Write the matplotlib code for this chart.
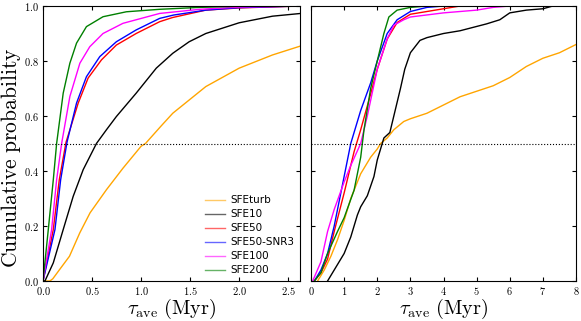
import matplotlib
matplotlib.use('Agg')
import matplotlib.pyplot as plt

plt.rcParams['mathtext.fontset'] = 'cm'
plt.rcParams['font.family'] = 'serif'
plt.rcParams['font.serif'] = ['cmr10', 'DejaVu Serif']
plt.rcParams['axes.formatter.use_mathtext'] = True
plt.rcParams['xtick.direction'] = 'in'
plt.rcParams['ytick.direction'] = 'in'
plt.rcParams['xtick.top'] = True
plt.rcParams['ytick.right'] = True

labels = ['SFEturb', 'SFE10', 'SFE50', 'SFE50-SNR3', 'SFE100', 'SFE200']
colors = ['orange', 'black', 'red', 'blue', 'magenta', 'green']

# left panel: smooth CDFs
l_turb_x = [0, 0.07, 0.1, 0.17, 0.27, 0.375, 0.48, 0.647, 0.815, 1.0, 1.045, 1.2,
            1.323, 1.66, 2.0, 2.34, 2.63]
l_turb_y = [0, 0, 0.008, 0.042, 0.09, 0.175, 0.248, 0.332, 0.41, 0.49, 0.5, 0.562,
            0.61, 0.707, 0.774, 0.822, 0.855]
l_sfe10_x = [0, 0.02, 0.105, 0.206, 0.308, 0.41, 0.545, 0.647, 0.748, 0.95, 1.155,
             1.323, 1.49, 1.66, 2.0, 2.34, 2.63]
l_sfe10_y = [0, 0, 0.066, 0.187, 0.308, 0.405, 0.5, 0.55, 0.598, 0.683, 0.774,
             0.828, 0.870, 0.90, 0.939, 0.963, 0.973]
l_sfe50_x = [0, 0.105, 0.166, 0.235, 0.359, 0.46, 0.596, 0.748, 0.95, 1.19, 1.32,
             1.66, 2.0, 2.63]
l_sfe50_y = [0, 0.187, 0.368, 0.505, 0.647, 0.738, 0.804, 0.858, 0.90, 0.943, 0.958,
             0.985, 0.993, 1.0]
l_snr3_x = [0, 0.122, 0.18, 0.245, 0.342, 0.443, 0.579, 0.748, 0.95, 1.19, 1.33,
            1.66, 2.0, 2.63]
l_snr3_y = [0, 0.187, 0.368, 0.505, 0.647, 0.743, 0.816, 0.87, 0.913, 0.955, 0.967,
            0.985, 0.994, 1.0]
l_sfe100_x = [0, 0.088, 0.139, 0.19, 0.274, 0.376, 0.477, 0.612, 0.815, 1.19, 1.6,
              2.0, 2.63]
l_sfe100_y = [0, 0.187, 0.368, 0.5, 0.671, 0.792, 0.852, 0.90, 0.937, 0.973, 0.988,
              0.996, 1.0]
l_sfe200_x = [0, 0.054, 0.105, 0.139, 0.206, 0.274, 0.342, 0.443, 0.612, 0.85, 1.19,
              1.6, 2.0, 2.63]
l_sfe200_y = [0, 0.187, 0.368, 0.5, 0.683, 0.792, 0.865, 0.925, 0.961, 0.979, 0.988,
              0.995, 0.999, 1.0]

# right panel: empirical CDFs
r_turb_x = [0.2, 0.4, 0.6, 0.8, 1.0, 1.2, 1.5, 1.8, 2.0, 2.1, 2.3, 2.5, 2.8, 3.0,
            3.5, 4.0, 4.5, 5.0, 5.5, 6.0, 6.5, 7.0, 7.5, 8.0]
r_turb_y = [0, 0.04, 0.09, 0.15, 0.22, 0.3, 0.39, 0.45, 0.48, 0.5, 0.52, 0.55, 0.58,
            0.59, 0.61, 0.64, 0.67, 0.69, 0.71, 0.74, 0.78, 0.81, 0.83, 0.86]
r_sfe10_x = [0.5, 0.7, 1.0, 1.2, 1.4, 1.5, 1.7, 1.9, 2.0, 2.1, 2.2, 2.38, 2.5, 2.7,
             2.83, 3.0, 3.29, 3.5, 4.0, 4.5, 5.3, 5.7, 6.0, 6.5, 7.0, 7.3]
r_sfe10_y = [0, 0.04, 0.1, 0.16, 0.24, 0.27, 0.31, 0.38, 0.44, 0.48, 0.52, 0.54, 0.6,
             0.7, 0.77, 0.83, 0.875, 0.885, 0.9, 0.91, 0.935, 0.95, 0.975, 0.985, 0.99, 1.0]
r_sfe50_x = [0.1, 0.3, 0.5, 0.7, 1.0, 1.3, 1.5, 1.8, 2.0, 2.3, 2.6, 3.0, 3.5, 4.0, 4.5]
r_sfe50_y = [0, 0.03, 0.08, 0.18, 0.32, 0.47, 0.55, 0.68, 0.77, 0.88, 0.94, 0.97,
             0.98, 0.99, 1.0]
r_snr3_x = [0.1, 0.3, 0.5, 0.7, 1.0, 1.2, 1.5, 1.8, 2.0, 2.3, 2.6, 3.0, 3.5, 4.0]
r_snr3_y = [0, 0.04, 0.1, 0.2, 0.38, 0.5, 0.62, 0.72, 0.8, 0.9, 0.95, 0.98, 0.995, 1.0]
r_sfe100_x = [0.05, 0.3, 0.5, 0.7, 1.0, 1.2, 1.5, 1.7, 2.0, 2.3, 2.5, 2.8, 3.0, 4.0,
              5.0, 5.5, 6.0]
r_sfe100_y = [0, 0.07, 0.18, 0.26, 0.36, 0.42, 0.5, 0.6, 0.77, 0.88, 0.93, 0.95,
              0.96, 0.975, 0.985, 0.995, 1.0]
r_sfe200_x = [0.1, 0.3, 0.5, 0.8, 1.0, 1.3, 1.5, 1.6, 1.8, 2.0, 2.2, 2.35, 2.6, 3.0, 3.5]
r_sfe200_y = [0, 0.03, 0.1, 0.18, 0.23, 0.33, 0.45, 0.55, 0.7, 0.8, 0.9, 0.96, 0.985,
              0.995, 1.0]

left_xs = [l_turb_x, l_sfe10_x, l_sfe50_x, l_snr3_x, l_sfe100_x, l_sfe200_x]
left_ys = [l_turb_y, l_sfe10_y, l_sfe50_y, l_snr3_y, l_sfe100_y, l_sfe200_y]
right_xs = [r_turb_x, r_sfe10_x, r_sfe50_x, r_snr3_x, r_sfe100_x, r_sfe200_x]
right_ys = [r_turb_y, r_sfe10_y, r_sfe50_y, r_snr3_y, r_sfe100_y, r_sfe200_y]

fig = plt.figure(figsize=(5.81, 3.21), dpi=100)
ax1 = fig.add_axes([0.074, 0.1246, 0.4423, 0.8567])
ax2 = fig.add_axes([0.5353, 0.1246, 0.4561, 0.8567])

for x, y, c, lab in zip(left_xs, left_ys, colors, labels):
    ax1.plot(x, y, color=c, lw=1.0, label=lab)
for x, y, c in zip(right_xs, right_ys, colors):
    ax2.plot(x, y, color=c, lw=1.0)

for ax in (ax1, ax2):
    ax.axhline(0.5, color='black', ls=':', lw=0.8)
    ax.set_ylim(0, 1)
    ax.tick_params(labelsize=7.5, length=3, pad=3)

ax1.set_xlim(0, 2.62)
ax2.set_xlim(0, 8)
ax1.set_xticks([0, 0.5, 1.0, 1.5, 2.0, 2.5])
ax2.set_xticks(range(9))
ax1.set_yticks([0, 0.2, 0.4, 0.6, 0.8, 1.0])
ax2.set_yticks([0, 0.2, 0.4, 0.6, 0.8, 1.0])
ax2.set_yticklabels([])

fig.text(-0.002, 0.51, r'$\mathrm{Cumulative\ probability}$', fontsize=15.5,
         rotation=90, ha='left', va='center')
ax1.set_xlabel(r'$\tau_{\rm ave}\ \mathrm{(Myr)}$', fontsize=14.5, labelpad=0)
ax2.set_xlabel(r'$\tau_{\rm ave}\ \mathrm{(Myr)}$', fontsize=14.5, labelpad=0)

leg = ax1.legend(loc='lower right', frameon=False, handlelength=1.9,
                 handletextpad=0.5, borderaxespad=0.15, labelspacing=0.38,
                 prop={'family': 'DejaVu Sans', 'size': 7.5})
for h in leg.legend_handles:
    h.set_alpha(0.6)

fig.savefig('out.png', dpi=100)
